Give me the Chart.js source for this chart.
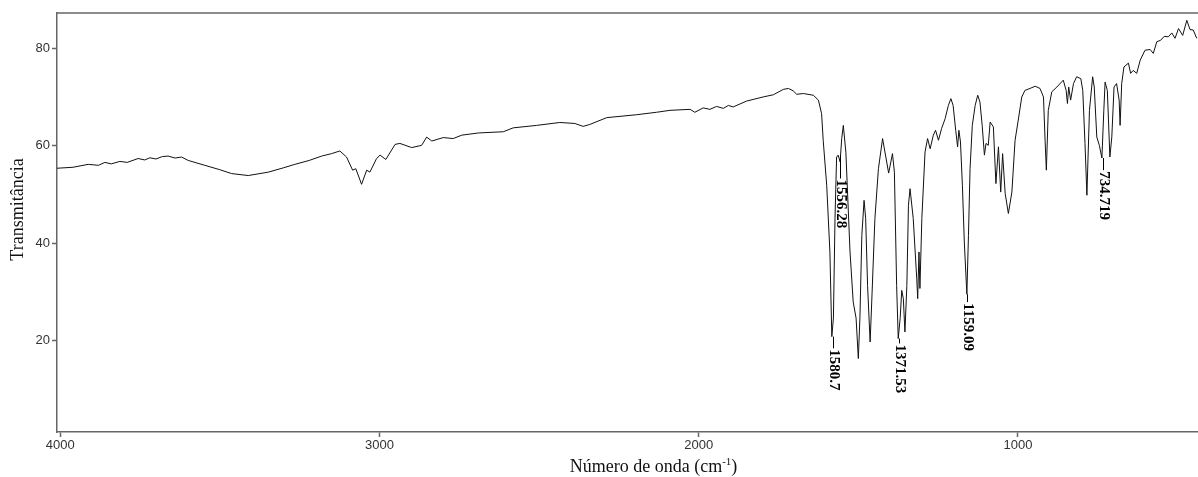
<!DOCTYPE html>
<html>
<head>
<meta charset="utf-8">
<script src="https://cdn.jsdelivr.net/npm/chart.js@4/dist/chart.umd.min.js"></script>
<style>
  html, body { margin: 0; background: #fff; }
  #wrap { width: 1198px; height: 477px; }
</style>
</head>
<body>
<div id="wrap"><canvas id="irChart"></canvas></div>
<script>
// IR spectrum (cm-1 vs % transmittance)
const wavenumbers = [4010,3960,3912,3880,3860,3840,3813,3790,3756,3735,3719,3700,3680,3662,3640,3620,3599,3547,3500,3463,3411,3348,3300,3265,3220,3181,3150,3124,3103,3084,3074,3056,3040,3030,3009,2998,2980,2951,2936,2899,2868,2852,2836,2800,2769,2742,2690,2612,2581,2508,2435,2388,2362,2341,2288,2194,2132,2090,2027,2012,1986,1965,1944,1923,1907,1892,1850,1798,1766,1735,1719,1704,1693,1672,1641,1625,1615,1610,1599,1589,1583,1578,1573,1568,1563,1557,1552,1547,1539,1526,1516,1507,1500,1495,1489,1482,1477,1471,1463,1458,1448,1437,1424,1405,1393,1387,1380,1375,1369,1364,1359,1354,1348,1343,1338,1328,1317,1314,1310,1307,1301,1291,1283,1275,1265,1258,1249,1239,1228,1218,1210,1203,1195,1189,1185,1180,1174,1168,1160,1155,1150,1143,1134,1126,1119,1112,1105,1100,1093,1087,1077,1069,1061,1054,1048,1040,1030,1019,1009,999,988,978,962,946,931,920,915,911,905,894,878,858,849,845,841,835,826,816,803,797,790,784,776,766,761,753,745,737,731,727,720,712,706,699,691,683,680,675,668,654,647,639,628,617,602,586,576,565,553,542,529,518,508,497,484,471,461,451,440];
const transmittance = [55.4,55.6,56.2,56.0,56.6,56.3,56.8,56.6,57.4,57.1,57.55,57.3,57.8,57.9,57.5,57.7,57.0,56.0,55.1,54.3,53.9,54.6,55.5,56.2,57.0,57.9,58.4,58.95,57.7,55.0,55.3,52.1,55.0,54.6,57.4,58.1,57.2,60.3,60.5,59.65,60.1,61.8,61.0,61.7,61.5,62.2,62.65,62.9,63.7,64.2,64.8,64.6,64.0,64.4,65.8,66.4,66.9,67.3,67.5,66.9,67.8,67.5,68.1,67.7,68.3,68.0,69.2,70.05,70.5,71.6,71.8,71.3,70.6,70.75,70.4,69.4,66.6,61.15,51.9,38.2,20.8,24.6,45.1,57.7,58.1,56.7,61.5,64.2,58.7,38.2,27.9,24.6,16.3,24.6,41.6,48.8,45.1,31.3,19.7,27.9,45.1,55.3,61.5,54.4,58.4,54.6,31.3,20.4,24.5,30.3,28.6,21.75,31.3,47.8,51.2,45.1,32.7,28.6,38.2,30.7,45.1,58.75,61.5,59.4,62.2,63.2,61.15,63.6,65.6,68.3,69.7,68.3,63.2,59.8,63.2,60.8,51.9,40.25,29.5,41.6,55.3,64.2,68.3,70.4,69.0,64.2,58.1,60.5,60.1,64.9,63.9,52.25,59.8,50.5,58.4,50.2,46.1,50.5,61.15,65.3,70.05,71.4,71.8,72.25,71.8,70.05,61.15,55.0,67.3,71.1,72.1,73.5,71.4,68.7,72.1,69.4,72.8,74.2,73.8,71.4,60.5,49.85,67.3,74.2,72.1,61.8,60.1,57.5,67.3,73.1,71.4,57.7,61.8,72.1,72.8,69.4,64.2,72.8,76.2,77.0,74.9,75.5,74.9,77.6,79.65,79.8,79.0,81.4,81.7,82.5,82.4,83.2,82.1,84.1,82.7,85.8,83.9,83.8,82.1];

// labelled peaks: tip of the marker line and where the text starts
const peakLabels = ['1580.7', '1556.28', '1371.53', '1159.09', '734.719'];
const peakWn = [1580.7, 1556.28, 1371.53, 1159.09, 734.719];
const peakTipT = [20.8, 58.1, 20.4, 29.5, 57.5];
const peakTextT = [18.4, 53.3, 19.4, 27.9, 55.0];

const xTicks = [4000, 3000, 2000, 1000];
const yTicks = [20, 40, 60, 80];

const points = wavenumbers.map((w, i) => ({ x: w, y: transmittance[i] }));

const axisColor = '#666';

const extras = {
    id: 'extras',
    afterDatasetsDraw(chart) {
        const c = chart.ctx;
        const area = chart.chartArea;
        const xs = chart.scales.x;
        const ys = chart.scales.y;

        // top frame line
        c.save();
        c.strokeStyle = axisColor;
        c.lineWidth = 1.5;
        c.beginPath();
        c.moveTo(area.left, area.top);
        c.lineTo(area.right, area.top);
        c.stroke();
        c.restore();

        // peak markers
        c.save();
        c.strokeStyle = '#000';
        c.fillStyle = '#000';
        c.lineWidth = 1;
        c.font = 'bold 15px "Liberation Serif"';
        c.textAlign = 'left';
        c.textBaseline = 'middle';
        peakLabels.forEach((lab, i) => {
            const px = Math.round(xs.getPixelForValue(peakWn[i])) + 0.5;
            const y1 = ys.getPixelForValue(peakTipT[i]);
            const y2 = ys.getPixelForValue(peakTextT[i]);
            c.beginPath();
            c.moveTo(px, y1);
            c.lineTo(px, y2);
            c.stroke();
            c.save();
            c.translate(px, y2 + 1);
            c.rotate(Math.PI / 2);
            c.fillText(lab, 0, 0);
            c.restore();
        });
        c.restore();

        // axis titles
        c.save();
        c.fillStyle = '#111';
        c.font = '18px "Liberation Serif"';
        const main = 'Número de onda (cm';
        const sup = '-1';
        const close = ')';
        const wMain = c.measureText(main).width;
        c.font = '11px "Liberation Serif"';
        const wSup = c.measureText(sup).width;
        c.font = '18px "Liberation Serif"';
        const wClose = c.measureText(close).width;
        const total = wMain + wSup + wClose;
        const cx = (area.left + area.right) / 2 + 26;
        let tx = cx - total / 2;
        const base = chart.height - 5;
        c.textBaseline = 'alphabetic';
        c.textAlign = 'left';
        c.fillText(main, tx, base);
        tx += wMain;
        c.font = '11px "Liberation Serif"';
        c.fillText(sup, tx, base - 7);
        tx += wSup;
        c.font = '18px "Liberation Serif"';
        c.fillText(close, tx, base);

        c.translate(18, (area.top + area.bottom) / 2 - 13);
        c.rotate(-Math.PI / 2);
        c.textAlign = 'center';
        c.textBaseline = 'middle';
        c.fillText('Transmitância', 0, 0);
        c.restore();
    }
};

new Chart(document.getElementById('irChart'), {
    type: 'line',
    data: {
        datasets: [{
            data: points,
            borderColor: '#111',
            borderWidth: 1,
            pointRadius: 0,
            tension: 0,
            fill: false
        }]
    },
    options: {
        responsive: true,
        maintainAspectRatio: false,
        animation: false,
        layout: { padding: { top: 13, right: 0, left: 0, bottom: 0 } },
        plugins: {
            legend: { display: false },
            tooltip: { enabled: false }
        },
        scales: {
            x: {
                type: 'linear',
                reverse: true,
                min: 436,
                max: 4010,
                afterBuildTicks: (s) => { s.ticks = xTicks.map(v => ({ value: v })); },
                afterFit: (s) => { s.height = 45; },
                grid: { drawOnChartArea: false, drawTicks: true, tickLength: 5, color: axisColor, tickWidth: 1.5 },
                border: { display: true, color: axisColor, width: 1.5 },
                ticks: { color: '#333', font: { family: '"Liberation Sans"', size: 13 }, padding: 1, maxRotation: 0, callback: (v) => String(v) }
            },
            y: {
                min: 1.2,
                max: 87.3,
                afterBuildTicks: (s) => { s.ticks = yTicks.map(v => ({ value: v })); },
                afterFit: (s) => { s.width = 57; },
                grid: { drawOnChartArea: false, drawTicks: true, tickLength: 5, color: axisColor, tickWidth: 1.5 },
                border: { display: true, color: axisColor, width: 1.5 },
                ticks: { color: '#333', font: { family: '"Liberation Sans"', size: 13 }, padding: 2, callback: (v) => String(v) }
            }
        }
    },
    plugins: [extras]
});
</script>
</body>
</html>
